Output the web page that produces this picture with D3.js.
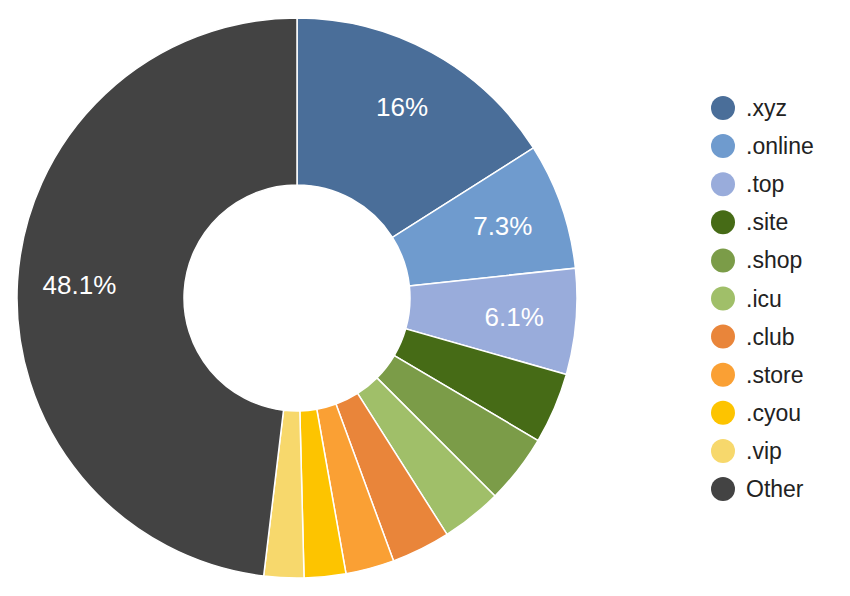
<!DOCTYPE html>
<html>
<head>
<meta charset="utf-8">
<script src="https://cdn.jsdelivr.net/npm/d3@7.9.0/dist/d3.min.js"></script>
<style>
  body { margin: 0; background: #fff; }
  svg { display: block; font-family: "Liberation Sans", Arial, sans-serif; }
</style>
</head>
<body>
<svg id="chart" width="850" height="596"></svg>
<script>
const tlds = ['.xyz', '.online', '.top', '.site', '.shop', '.icu', '.club', '.store', '.cyou', '.vip', 'Other'];
const shares = [16, 7.3, 6.1, 4.1, 4.0, 3.5, 3.4, 2.8, 2.4, 2.3, 48.1];
const colors = ['#4a6e99', '#6f9bce', '#99acdb', '#466b16', '#7b9c48', '#a0bf69', '#e9853a', '#faa034', '#fdc400', '#f7d86c', '#434343'];

let data = tlds.map((name, i) => ({ name: name, value: shares[i] }));

const svg = d3.select('#chart');
const cx = 297, cy = 298;
const outerR = 280, innerR = 113;

let pie = d3.pie().value((d) => d.value).sort(null);
let arc = d3.arc().innerRadius(innerR).outerRadius(outerR);
let labelArc = d3.arc().innerRadius(218).outerRadius(218);
let color = d3.scaleOrdinal().domain(tlds).range(colors);

let g = svg.append('g').attr('transform', `translate(${cx},${cy})`);
let arcs = pie(data);

g.selectAll('path')
  .data(arcs)
  .join('path')
  .attr('d', arc)
  .attr('fill', (d) => color(d.data.name))
  .attr('stroke', '#fff')
  .attr('stroke-width', 1.5);

// only the bigger slices get a label
g.selectAll('text')
  .data(arcs.filter((d) => d.data.value >= 5))
  .join('text')
  .attr('transform', (d) => `translate(${labelArc.centroid(d)})`)
  .attr('text-anchor', 'middle')
  .attr('dy', '0.35em')
  .attr('fill', '#fff')
  .attr('font-size', 26)
  .text((d) => d.data.value + '%');

let legend = svg.append('g').attr('transform', 'translate(723,108)');
let rows = legend.selectAll('g')
  .data(tlds)
  .join('g')
  .attr('transform', (d, i) => `translate(0,${i * 38.1})`);

rows.append('circle')
  .attr('r', 12)
  .attr('fill', (d) => color(d));

rows.append('text')
  .attr('x', 23)
  .attr('dy', '0.35em')
  .attr('font-size', 23)
  .attr('fill', '#222')
  .text((d) => d);
</script>
</body>
</html>
